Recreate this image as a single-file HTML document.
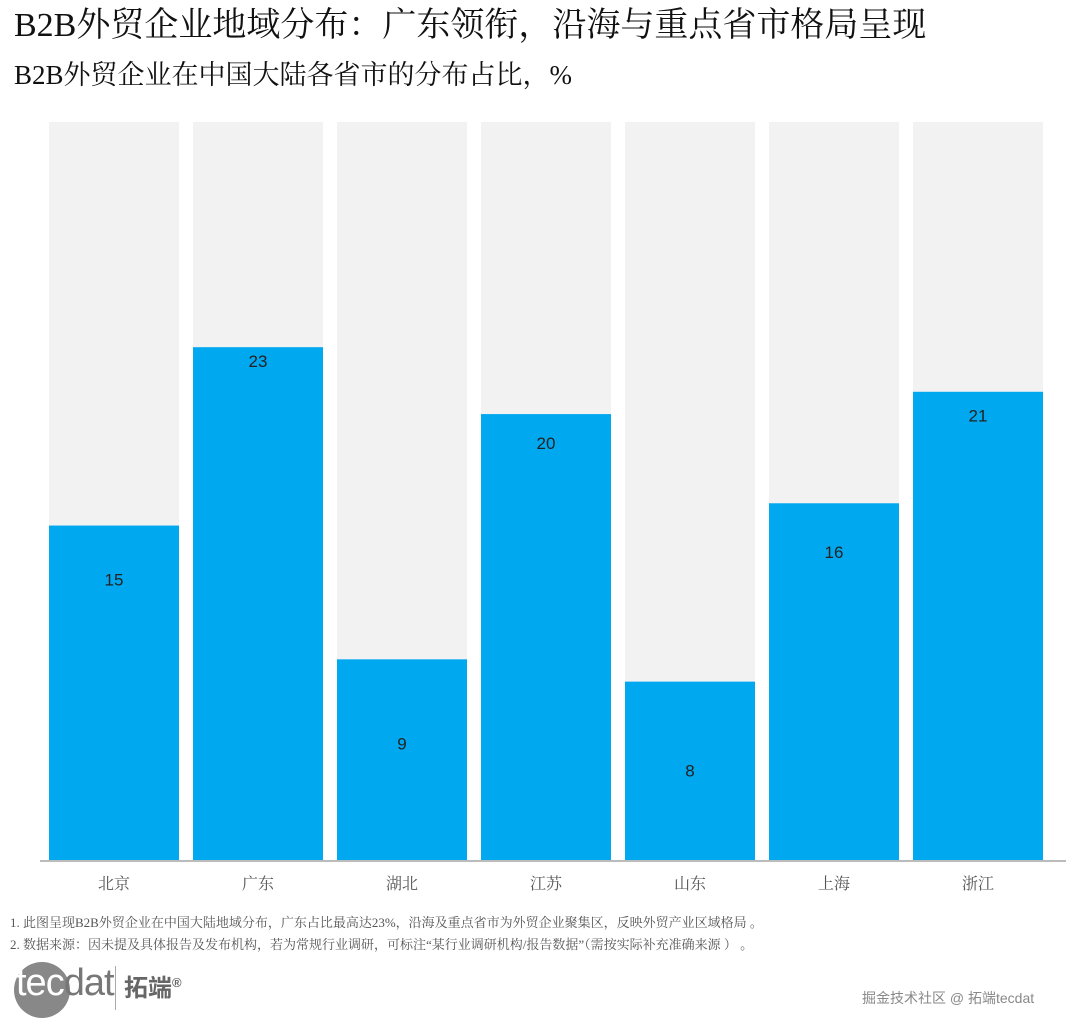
<!DOCTYPE html>
<html><head><meta charset="utf-8">
<style>
body{margin:0;width:1080px;height:1030px;background:#fff;overflow:hidden;font-family:"Liberation Serif","Noto Serif CJK SC",serif;position:relative}
.t{position:absolute;left:14px;white-space:nowrap;color:#111}
</style></head><body>
<div class="t" style="top:4px;font-size:34px;line-height:44px">B2B外贸企业地域分布：广东领衔，沿海与重点省市格局呈现</div>
<div class="t" style="top:56px;font-size:27px;line-height:38px">B2B外贸企业在中国大陆各省市的分布占比，%</div>
<svg id="chart" width="1080" height="900" style="position:absolute;left:0;top:0"></svg>
<div class="t" style="top:912px;left:10px;font-size:13px;color:#555">1. 此图呈现B2B外贸企业在中国大陆地域分布，广东占比最高达23%，沿海及重点省市为外贸企业聚集区，反映外贸产业区域格局 。</div>
<div class="t" style="top:934px;left:10px;font-size:13px;color:#555">2. 数据来源：因未提及具体报告及发布机构，若为常规行业调研，可标注“某行业调研机构/报告数据”（需按实际补充准确来源 ） 。</div>
<div style="position:absolute;left:14px;top:962px;width:56px;height:56px;border-radius:50%;background:#888"></div>
<div class="t" style="top:962px;left:16px;font-family:'Liberation Sans',sans-serif;font-size:38px;color:#fff;letter-spacing:-1px"><span style="color:#fff">tec</span><span style="color:#777">dat</span></div>
<div style="position:absolute;left:115px;top:966px;width:1px;height:44px;background:#aaa"></div>
<div class="t" style="top:968px;left:124px;font-family:'Liberation Sans','Noto Sans CJK SC',sans-serif;font-weight:bold;font-size:24px;color:#666">拓端<sup style="font-size:13px">®</sup></div>
<div class="t" style="top:988px;left:862px;font-family:'Liberation Sans','Noto Sans CJK SC',sans-serif;font-size:14px;color:#888">掘金技术社区 @ 拓端tecdat</div>
<script>
const categories=["北京","广东","湖北","江苏","山东","上海","浙江"];
const values=[15,23,9,20,8,16,21];
const yMax=33.1;
const svg=document.getElementById('chart');
const NS='http://www.w3.org/2000/svg';
const base=860,top0=122,x0=49,step=144,bw=130;
const y=v=>base-(v/yMax)*(base-top0);
const x=i=>x0+i*step;
function mk(t,a){const e=document.createElementNS(NS,t);for(const k in a)e.setAttribute(k,a[k]);svg.appendChild(e);return e;}
categories.forEach((c,i)=>{
 const bg=mk('rect',{x:x(i),y:y(yMax),width:bw,height:base-y(yMax),fill:'#f2f2f2'});
 
 
 const r=mk('rect',{x:x(i),y:y(values[i]),width:bw,height:base-y(values[i]),fill:'#00a8f0'});
 
 
 const ly=base+129-values[i]*27.3+6;
 const t=mk('text',{x:x(i)+bw/2,y:ly,'text-anchor':'middle','font-size':17,'font-family':'Liberation Sans,sans-serif',fill:'#222'});
 t.textContent=values[i];
 
 
 const xl=mk('text',{x:x(i)+bw/2,y:889,'text-anchor':'middle','font-size':16,'font-family':'Liberation Serif,Noto Serif CJK SC,serif',fill:'#555'});
 xl.textContent=c;
 
 
});
const ax=mk('line',{x1:40,x2:1066,y1:base+1,y2:base+1,stroke:'#bbb','stroke-width':2});


</script>
</body></html>
